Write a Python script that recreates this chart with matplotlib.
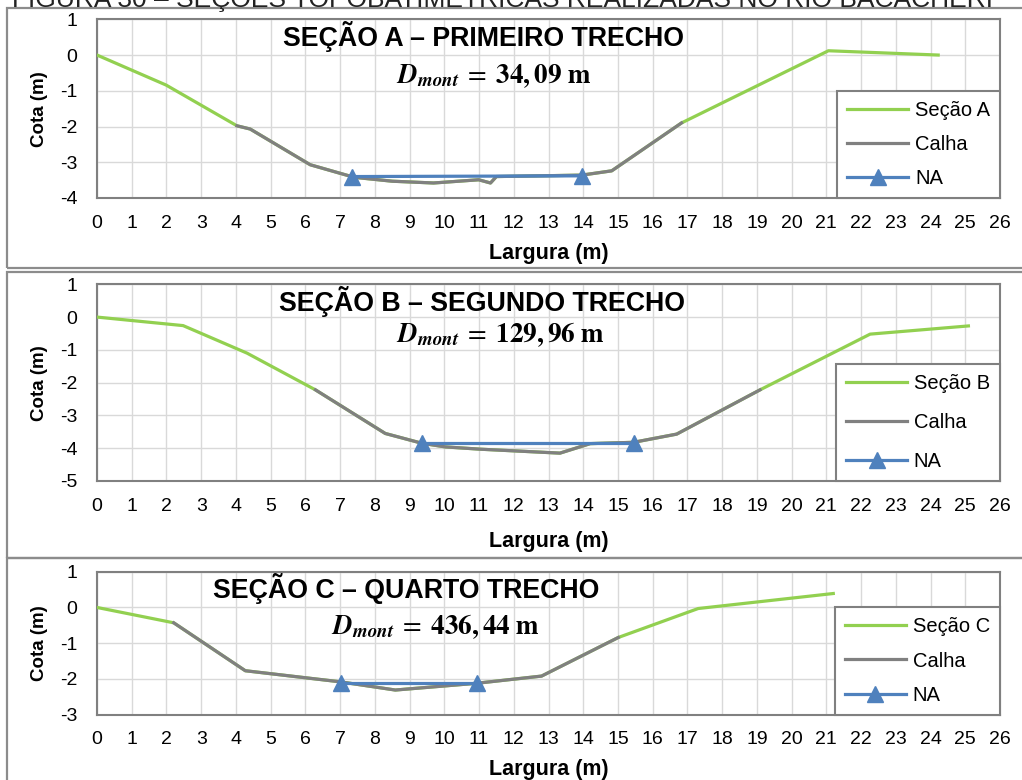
import matplotlib
matplotlib.use("Agg")
import matplotlib.pyplot as plt
from matplotlib.patches import Rectangle

plt.rcParams['font.family'] = ['Liberation Sans', 'DejaVu Sans']
plt.rcParams['mathtext.fontset'] = 'stix'

W, H = 1022, 780

# ---------------- data ----------------
# Seção A
a_secao_x = [0, 1.99, 4.03, 4.41, 6.14, 7.4, 8.5, 9.69, 10.99, 11.33, 11.5, 13.96, 14.82, 16.83, 21.06, 24.22]
a_secao_y = [0, -0.84, -1.98, -2.07, -3.07, -3.42, -3.53, -3.58, -3.49, -3.58, -3.40, -3.36, -3.24, -1.90, 0.12, 0.0]
a_calha_x = [4.03, 4.41, 6.14, 7.4, 8.5, 9.69, 10.99, 11.33, 11.5, 13.96, 14.82, 16.83]
a_calha_y = [-1.98, -2.07, -3.07, -3.42, -3.53, -3.58, -3.49, -3.58, -3.40, -3.36, -3.24, -1.90]
a_na_x = [7.35, 13.96]
a_na_y = [-3.40, -3.38]

# Seção B
b_secao_x = [0, 2.48, 4.32, 6.29, 8.3, 9.36, 10.03, 11.04, 13.33, 14.2, 15.45, 16.69, 19.09, 22.26, 25.09]
b_secao_y = [0, -0.26, -1.10, -2.22, -3.55, -3.85, -3.96, -4.03, -4.15, -3.86, -3.82, -3.57, -2.22, -0.52, -0.27]
b_calha_x = [6.29, 8.3, 9.36, 10.03, 11.04, 13.33, 14.2, 15.45, 16.69, 19.09]
b_calha_y = [-2.22, -3.55, -3.85, -3.96, -4.03, -4.15, -3.86, -3.82, -3.57, -2.22]
b_na_x = [9.36, 15.45]
b_na_y = [-3.84, -3.84]

# Seção C
c_secao_x = [0, 2.21, 4.27, 7.0, 8.59, 10.94, 12.8, 15.01, 17.31, 21.2]
c_secao_y = [0, -0.43, -1.77, -2.08, -2.31, -2.12, -1.92, -0.84, -0.03, 0.39]
c_calha_x = [2.21, 4.27, 7.0, 8.59, 10.94, 12.8, 15.01]
c_calha_y = [-0.43, -1.77, -2.08, -2.31, -2.12, -1.92, -0.84]
c_na_x = [7.02, 10.94]
c_na_y = [-2.10, -2.10]

x_ticks = list(range(0, 27))
a_yticks = [1, 0, -1, -2, -3, -4]
b_yticks = [1, 0, -1, -2, -3, -4, -5]
c_yticks = [1, 0, -1, -2, -3]

titles = ["SEÇÃO A – PRIMEIRO TRECHO", "SEÇÃO B – SEGUNDO TRECHO", "SEÇÃO C – QUARTO TRECHO"]
dmont = ["34,09", "129,96", "436,44"]
secao_labels = ["Seção A", "Seção B", "Seção C"]
header = "FIGURA 30 – SEÇÕES TOPOBATIMÉTRICAS REALIZADAS NO RIO BACACHERI"

GREEN = '#92D050'
GRAY = '#808080'
BLUE = '#4F81BD'
GRID = '#D9D9D9'
FRAME = '#8C8C8C'

fig = plt.figure(figsize=(W / 100, H / 100), dpi=100)


def fx(px):
    return px / W


def fy(py):
    return 1 - py / H


# outer chart frames
for (top, bot) in [(8, 268), (272, 558), (558, 800)]:
    fig.patches.append(Rectangle((fx(7), fy(bot)), fx(1100 - 7), (bot - top) / H,
                                 transform=fig.transFigure, fill=False,
                                 edgecolor=FRAME, linewidth=1.6, zorder=0))

fig.text(fx(12), fy(6.5), header, fontsize=19, ha='left', va='baseline', color='#222222')

panels = [
    dict(top=19.3, bot=198, ylim=(-4, 1), yt=a_yticks,
         sx=a_secao_x, sy=a_secao_y, cx=a_calha_x, cy=a_calha_y, nx=a_na_x, ny=a_na_y,
         t_xy=(483, 37), d_xy=(494, 76), ls=0.75, xlp=8),
    dict(top=284.3, bot=481, ylim=(-5, 1), yt=b_yticks,
         sx=b_secao_x, sy=b_secao_y, cx=b_calha_x, cy=b_calha_y, nx=b_na_x, ny=b_na_y,
         t_xy=(482, 302), d_xy=(500, 335), ls=1.0, xlp=12),
    dict(top=571.7, bot=714.7, ylim=(-3, 1), yt=c_yticks,
         sx=c_secao_x, sy=c_secao_y, cx=c_calha_x, cy=c_calha_y, nx=c_na_x, ny=c_na_y,
         t_xy=(406, 588), d_xy=(435, 627), ls=0.75, xlp=8),
]

L, R = 97, 1000
for i, p in enumerate(panels):
    ax = fig.add_axes([fx(L), fy(p['bot']), (R - L) / W, (p['bot'] - p['top']) / H])
    ax.plot(p['sx'], p['sy'], color=GREEN, lw=2.3, label=secao_labels[i], zorder=3)
    ax.plot(p['cx'], p['cy'], color=GRAY, lw=2.3, label='Calha', zorder=4)
    ax.plot(p['nx'], p['ny'], color=BLUE, lw=2.3, marker='^', markersize=11,
            label='NA', zorder=5)
    ax.set_xlim(0, 26)
    ax.set_ylim(*p['ylim'])
    ax.set_xticks(x_ticks)
    ax.set_yticks(p['yt'])
    ax.set_yticklabels([str(v) for v in p['yt']])
    ax.tick_params(length=0, labelsize=14)
    ax.tick_params(axis='x', pad=12)
    ax.tick_params(axis='y', pad=14)
    ax.grid(True, color=GRID, lw=1.0, zorder=0)
    ax.set_axisbelow(True)
    for s in ax.spines.values():
        s.set_color(GRAY)
        s.set_linewidth(1.5)
    ax.set_ylabel('Cota (m)', fontsize=13.5, fontweight='bold', labelpad=9)
    ax.set_xlabel('Largura (m)', fontsize=15.5, fontweight='bold', labelpad=p['xlp'])
    leg = ax.legend(loc='lower right', bbox_to_anchor=(1.0, 0.0), borderaxespad=0,
                    fancybox=False, edgecolor=GRAY, framealpha=1, fontsize=14.5,
                    handlelength=3.0, handletextpad=0.35, labelspacing=p['ls'],
                    borderpad=0.5)
    leg.get_frame().set_linewidth(1.5)
    leg.set_zorder(10)
    fig.text(fx(p['t_xy'][0]), fy(p['t_xy'][1]), titles[i], fontsize=19.3,
             fontweight='bold', ha='center', va='center')
    fig.text(fx(p['d_xy'][0]), fy(p['d_xy'][1]),
             r'$\mathbfit{D}_{\mathbfit{mont}}\;=\;\mathbf{' + dmont[i] + r'}\ \mathbf{m}$',
             fontsize=19.5, ha='center', va='center')

fig.savefig('out.png', dpi=100)
